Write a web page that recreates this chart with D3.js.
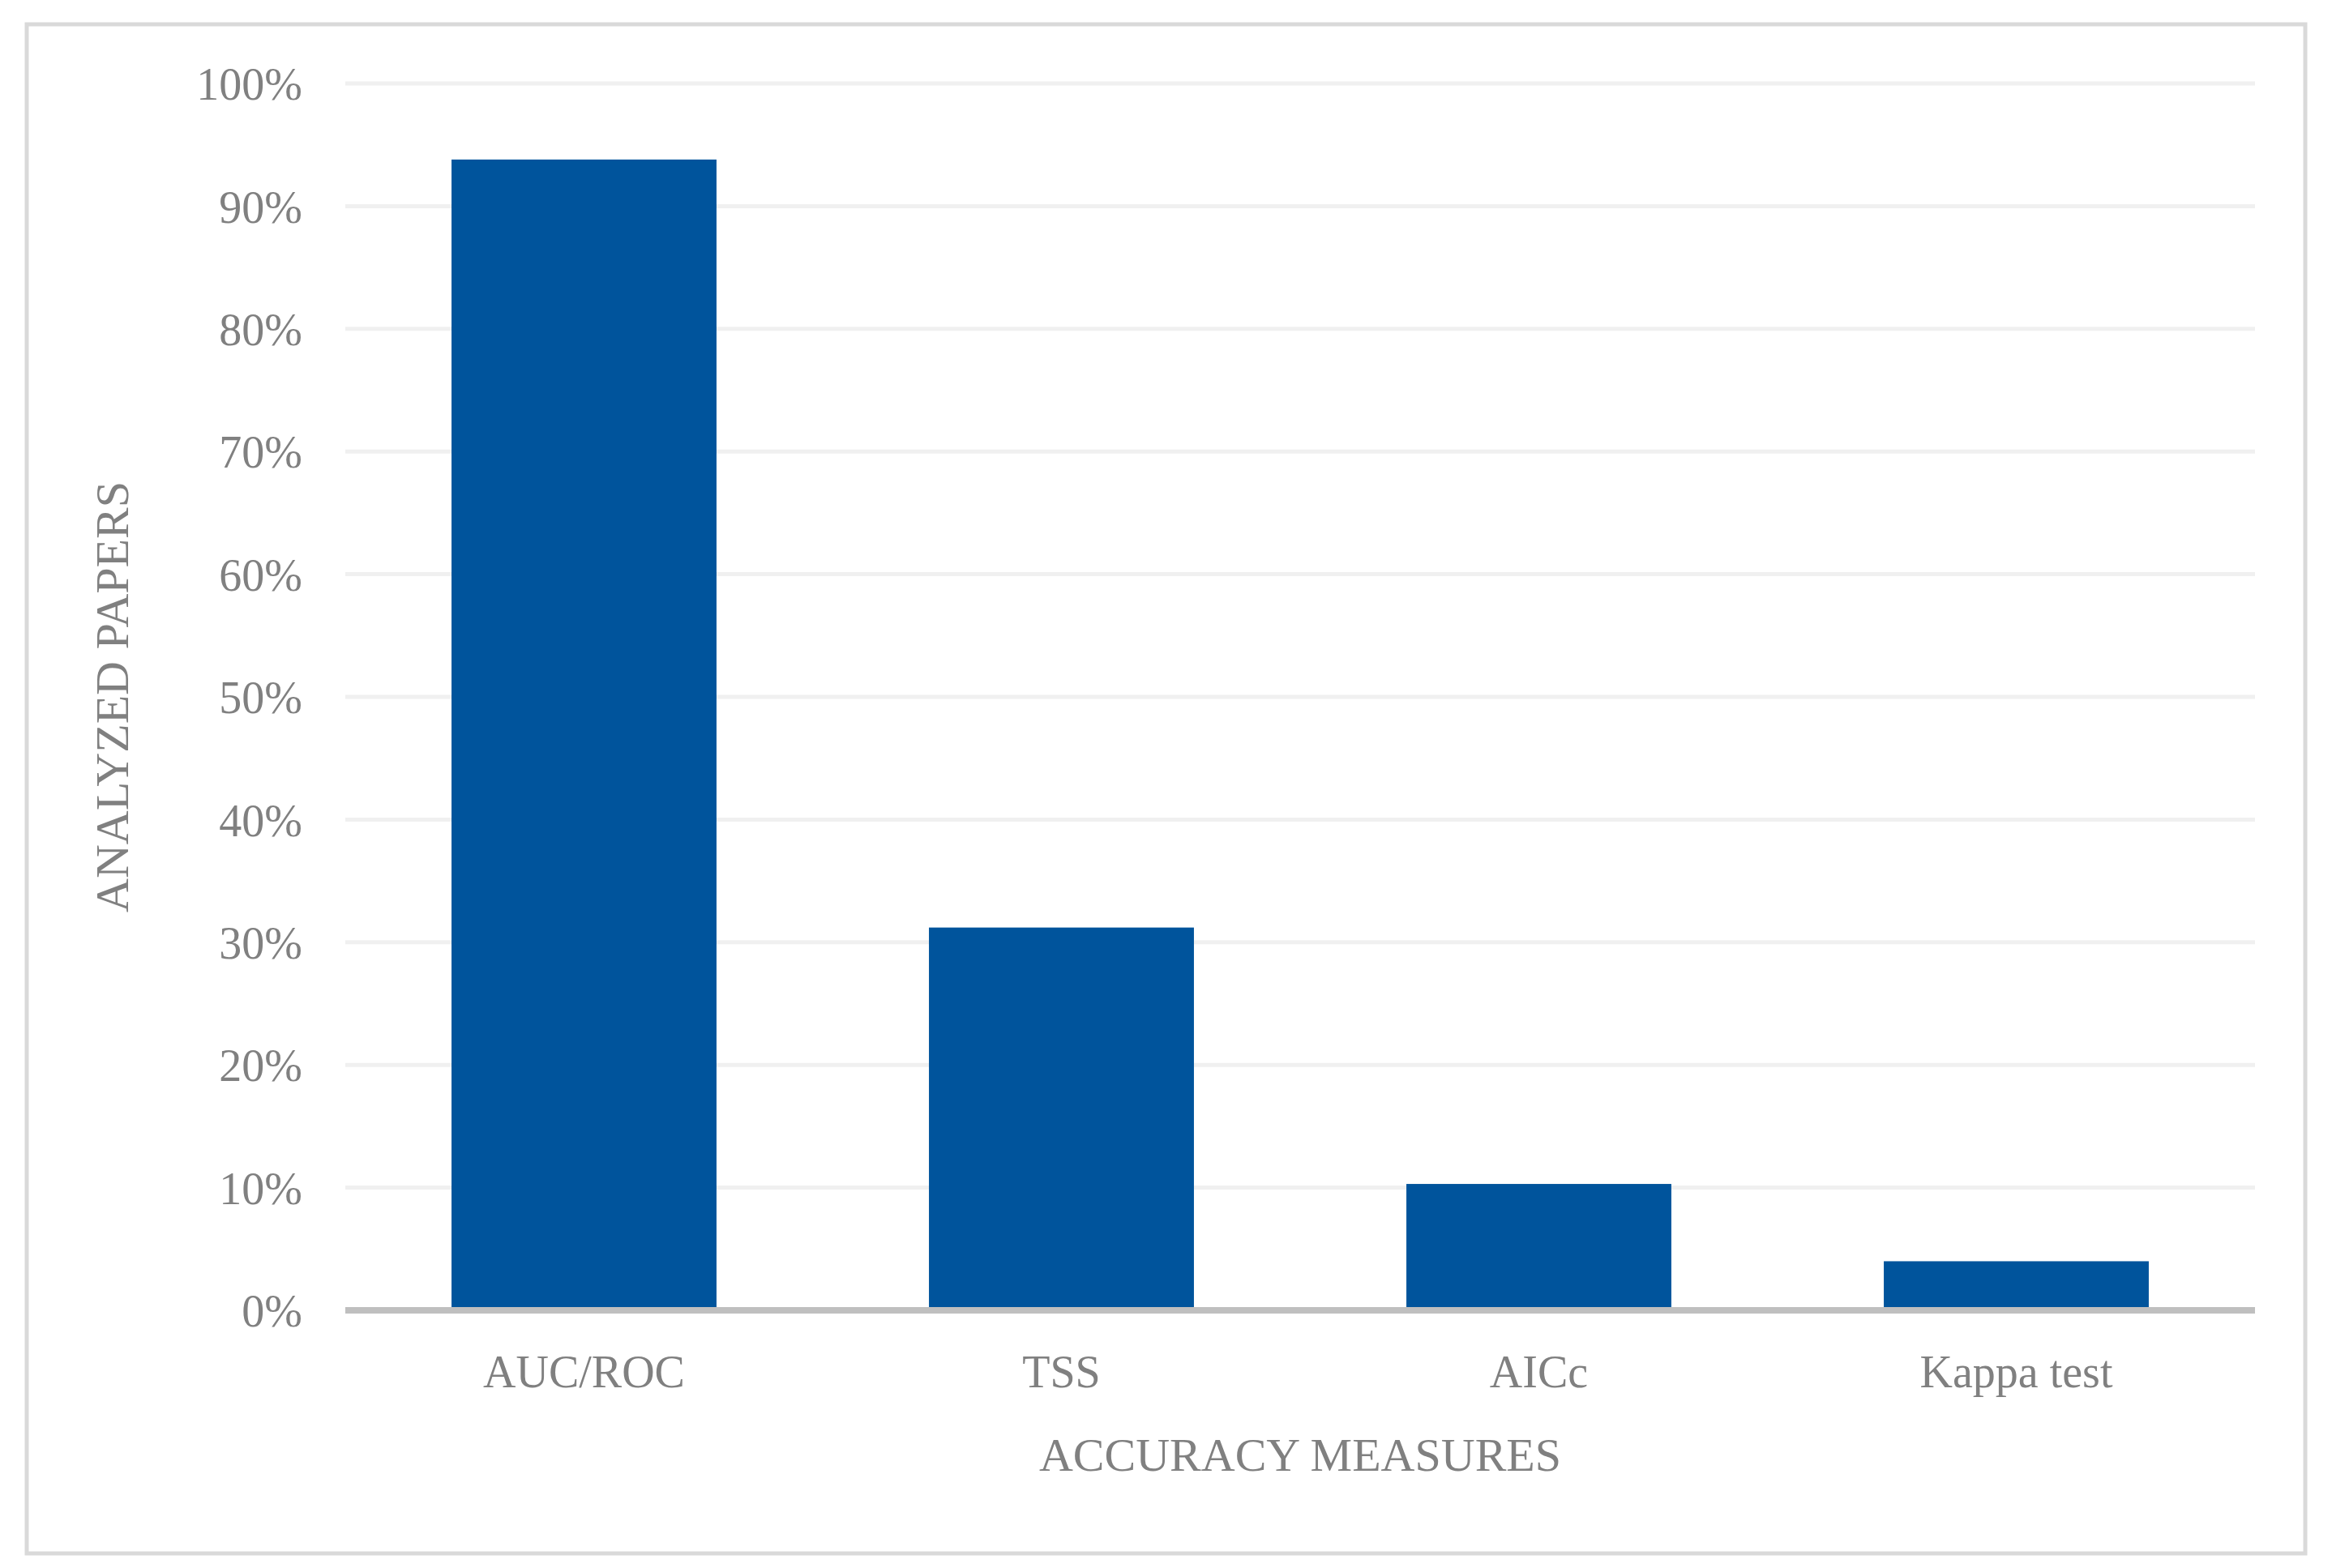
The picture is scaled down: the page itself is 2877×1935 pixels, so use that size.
<!DOCTYPE html>
<html>
<head>
<meta charset="utf-8">
<script src="https://cdn.jsdelivr.net/npm/d3@7"></script>
<style>
  body { margin: 0; background: #fff; }
  text { font-family: "Liberation Serif", "Times New Roman", serif; fill: #808080; }
</style>
</head>
<body>
<div id="chart"></div>
<script>
const categories = ['AUC/ROC', 'TSS', 'AICc', 'Kappa test'];
const values = [93.8, 31.2, 10.3, 4.0];
const yTicks = [0, 10, 20, 30, 40, 50, 60, 70, 80, 90, 100];

const width = 2877;
const height = 1935;
const margin = { top: 103, bottom: 318, left: 426, right: 95 };

const svg = d3.select('#chart')
    .append('svg')
    .attr('width', width)
    .attr('height', height);

// outer frame
svg.append('rect')
    .attr('x', 33).attr('y', 30)
    .attr('width', 2811).attr('height', 1887)
    .attr('fill', 'none')
    .attr('stroke', '#d9d9d9')
    .attr('stroke-width', 5);

const x = d3.scaleBand()
    .domain(categories)
    .range([margin.left, width - margin.right])
    .paddingInner(0.445)
    .paddingOuter(0.2225);

const y = d3.scaleLinear()
    .domain([0, 100])
    .range([height - margin.bottom, margin.top]);

// gridlines
svg.append('g')
    .selectAll('line')
    .data(yTicks.slice(1))
    .join('line')
    .attr('x1', margin.left)
    .attr('x2', width - margin.right)
    .attr('y1', d => y(d))
    .attr('y2', d => y(d))
    .attr('stroke', '#f0f0f0')
    .attr('stroke-width', 5);

svg.append('g')
    .attr('fill', '#00549c')
    .selectAll('rect')
    .data(values)
    .join('rect')
    .attr('x', (d, i) => x(categories[i]))
    .attr('y', d => y(d))
    .attr('width', x.bandwidth())
    .attr('height', d => y(0) - y(d));

// baseline
svg.append('line')
    .attr('x1', margin.left)
    .attr('x2', width - margin.right)
    .attr('y1', y(0))
    .attr('y2', y(0))
    .attr('stroke', '#bfbfbf')
    .attr('stroke-width', 8);

function yAxis(g) {
    g.attr('transform', `translate(${margin.left - 50}, 0)`)
        .call(d3.axisLeft(y).tickValues(yTicks).tickFormat(d => d + '%').tickSize(0))
        .attr('font-size', '56px')
        .call(g => g.select('.domain').remove())
        .call(g => g.selectAll('text').attr('fill', '#808080').attr('dy', '0.35em'));
}

function xAxis(g) {
    g.attr('transform', `translate(0,${y(0)})`)
        .call(d3.axisBottom(x).tickSize(0).tickPadding(55))
        .attr('font-size', '56px')
        .call(g => g.select('.domain').remove())
        .call(g => g.selectAll('text').attr('fill', '#808080'));
}

svg.append('g').call(xAxis);
svg.append('g').call(yAxis);

svg.append('text')
    .attr('x', (margin.left + width - margin.right) / 2)
    .attr('y', 1815)
    .attr('text-anchor', 'middle')
    .attr('font-size', '58px')
    .text('ACCURACY MEASURES');

svg.append('text')
    .attr('transform', `translate(158, ${(margin.top + height - margin.bottom) / 2}) rotate(-90)`)
    .attr('text-anchor', 'middle')
    .attr('font-size', '58px')
    .text('ANALYZED PAPERS');
</script>
</body>
</html>
